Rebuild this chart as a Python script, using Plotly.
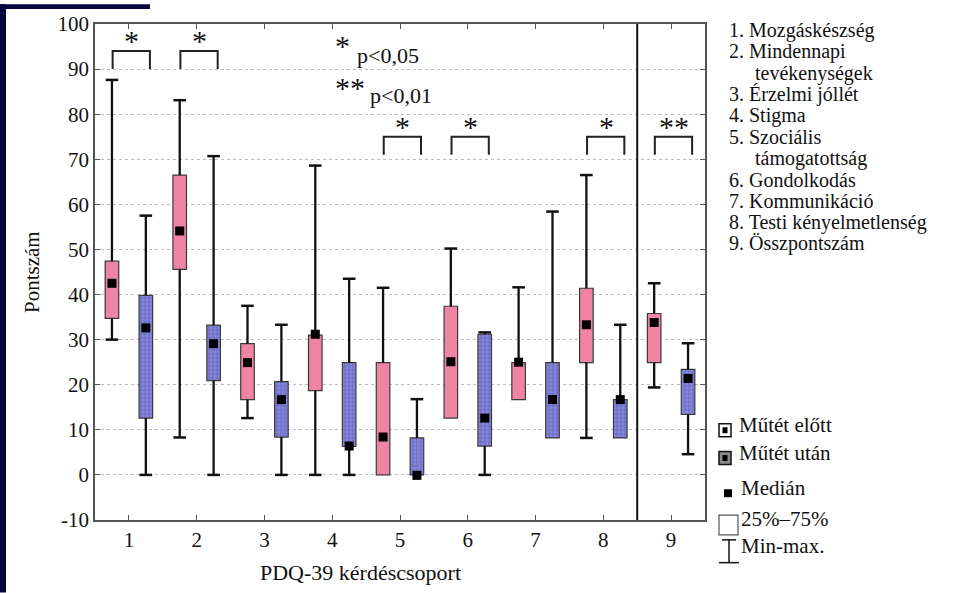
import plotly.graph_objects as go

# ---------------- data ----------------
CATEGORIES = [1, 2, 3, 4, 5, 6, 7, 8, 9]
Y_TICKS = [-10, 0, 10, 20, 30, 40, 50, 60, 70, 80, 90, 100]
Y_TICK_TEXT = ["-10", "0", "10", "20", "30", "40", "50", "60", "70", "80", "90", "100"]

BEFORE_MIN = [30.0, 8.3, 12.6, 0.0, 0.0, 12.6, 16.7, 8.2, 19.4]
BEFORE_Q1 = [34.7, 45.6, 16.7, 18.7, 0.0, 12.6, 16.7, 24.9, 24.9]
BEFORE_MED = [42.5, 54.1, 24.9, 31.2, 8.4, 25.1, 25.0, 33.3, 33.8]
BEFORE_Q3 = [47.4, 66.5, 29.1, 31.0, 24.9, 37.4, 24.9, 41.4, 35.8]
BEFORE_MAX = [87.6, 83.1, 37.5, 68.6, 41.5, 50.2, 41.6, 66.5, 42.5]

AFTER_MIN = [0.0, 0.0, 0.0, 0.0, 0.0, 0.0, 8.2, 8.2, 4.6]
AFTER_Q1 = [12.6, 20.9, 8.4, 6.3, 0.0, 6.4, 8.2, 8.2, 13.4]
AFTER_MED = [32.6, 29.1, 16.7, 6.4, -0.1, 12.6, 16.7, 16.7, 21.4]
AFTER_Q3 = [39.8, 33.2, 20.7, 24.9, 8.2, 31.2, 24.9, 16.7, 23.4]
AFTER_MAX = [57.5, 70.7, 33.3, 43.5, 16.8, 31.6, 58.4, 33.3, 29.2]

SIG_CATS = [1, 2, 5, 6, 8, 9]
SIG_LABELS = ["*", "*", "*", "*", "*", "**"]
SIG_TOP = [94.0, 94.0, 75.0, 75.0, 75.0, 75.0]

GROUP_NAMES = ["1. Mozgáskészség", "2. Mindennapi", "tevékenységek",
               "3. Érzelmi jóllét", "4. Stigma", "5. Szociális",
               "támogatottság", "6. Gondolkodás", "7. Kommunikáció",
               "8. Testi kényelmetlenség", "9. Összpontszám"]
GROUP_INDENT = [False, False, True, False, False, False, True, False, False, False, False]

X_TITLE = "PDQ-39 kérdéscsoport"
Y_TITLE = "Pontszám"

# ---------------- style ----------------
W, H = 957, 593
ML, MR, MT, MB = 95, 252, 20, 73
PW, PH = W - ML - MR, H - MT - MB
FONT = "Liberation Serif, Times New Roman, serif"
TXT = "#111"
PINK = "#f084a4"
BLUE = "#8486ee"
NAVY = "#07063a"
OFFSET = 0.25
BOX_W = 0.2


def px(x):
    return (x - ML) / PW


def py(y):
    return (MT + PH - y) / PH


fig = go.Figure()


def add_group(xs, q1, med, q3, vmin, vmax, color, pattern):
    fig.add_trace(go.Bar(
        x=xs, y=[b - a for a, b in zip(q1, q3)], base=q1, width=BOX_W,
        marker=dict(color=color, line=dict(color="#3a3a3a", width=1.2),
                    pattern=pattern),
        showlegend=False, hoverinfo="skip"))
    wx, wy = [], []
    for x, a, b, lo, hi in zip(xs, q1, q3, vmin, vmax):
        wx += [x, x, None, x, x, None]
        wy += [b, hi, None, lo, a, None]
    fig.add_trace(go.Scatter(x=wx, y=wy, mode="lines",
                             line=dict(color="#111", width=2.3),
                             showlegend=False, hoverinfo="skip"))
    cx, cy = [], []
    for x, a, b, lo, hi in zip(xs, q1, q3, vmin, vmax):
        if hi - b > 0.05:
            cx.append(x); cy.append(hi)
        if a - lo > 0.05:
            cx.append(x); cy.append(lo)
    fig.add_trace(go.Scatter(x=cx, y=cy, mode="markers",
                             marker=dict(symbol="line-ew", size=9,
                                         line=dict(color="#111", width=2.5)),
                             showlegend=False, hoverinfo="skip"))
    fig.add_trace(go.Scatter(x=xs, y=med, mode="markers",
                             marker=dict(symbol="square", size=9, color="#000"),
                             showlegend=False, hoverinfo="skip"))


xb = [c - OFFSET for c in CATEGORIES]
xa = [c + OFFSET for c in CATEGORIES]
add_group(xb, BEFORE_Q1, BEFORE_MED, BEFORE_Q3, BEFORE_MIN, BEFORE_MAX, PINK, None)
add_group(xa, AFTER_Q1, AFTER_MED, AFTER_Q3, AFTER_MIN, AFTER_MAX, BLUE,
          dict(shape="+", fgcolor="#5a5a6e", size=4, solidity=0.5))

# significance brackets
bx, by = [], []
for c, top in zip(SIG_CATS, SIG_TOP):
    l, r = c - 0.24, c + 0.31
    bx += [l, l, r, r, None]
    by += [top - 4, top, top, top - 4, None]
fig.add_trace(go.Scatter(x=bx, y=by, mode="lines",
                         line=dict(color="#222", width=2),
                         showlegend=False, hoverinfo="skip"))

annotations = []
for c, top, lab in zip(SIG_CATS, SIG_TOP, SIG_LABELS):
    annotations.append(dict(x=c + 0.04, y=top, xref="x", yref="y", text=lab,
                            showarrow=False, yanchor="bottom", yshift=-8,
                            font=dict(family=FONT, size=30, color=TXT)))


def ptext(x, y, text, size=20, xanchor="left", yshift=5, **kw):
    d = dict(x=px(x), y=py(y), xref="paper", yref="paper", text=text,
             showarrow=False, xanchor=xanchor, yanchor="middle", yshift=yshift,
             font=dict(family=FONT, size=size, color=TXT))
    d.update(kw)
    annotations.append(d)


# p legend
ptext(342, 47, "*", size=30, xanchor="center")
ptext(355, 57, "p<0,05", size=22)
ptext(350, 89, "**", size=30, xanchor="center")
ptext(368, 97, "p<0,01", size=22)

# group names list
for i, (name, ind) in enumerate(zip(GROUP_NAMES, GROUP_INDENT)):
    ptext(753 if ind else 727, 31.5 + 21.5 * i, name)

# lower legend
LEG_TEXT = [("Műtét előtt", 737, 429), ("Műtét után", 737, 458),
            ("Medián", 739, 493), ("25%–75%", 739, 524), ("Min-max.", 739, 551)]
for t, x, y in LEG_TEXT:
    ptext(x, y, t, size=21)

# axis titles
ptext(360, 578, X_TITLE, size=22, xanchor="center")
ptext(28, 270, Y_TITLE, size=21, xanchor="center", yshift=0, xshift=4, textangle=-90)

shapes = []


def rect(x0, y0, x1, y1, fill, line_color=None, lw=0):
    shapes.append(dict(type="rect", xref="paper", yref="paper",
                       x0=px(x0), x1=px(x1), y0=py(y1), y1=py(y0),
                       fillcolor=fill, line=dict(color=line_color or fill, width=lw),
                       layer="above"))


def seg(x0, y0, x1, y1, color="#111", lw=1.5):
    shapes.append(dict(type="line", xref="paper", yref="paper",
                       x0=px(x0), x1=px(x1), y0=py(y0), y1=py(y1),
                       line=dict(color=color, width=lw), layer="above"))


# navy frame pieces
rect(0, 0, 6, H, NAVY)
rect(0, 0, 150, 5, NAVY)

# divider between groups
shapes.append(dict(type="line", xref="x", yref="paper", x0=8.5, x1=8.5, y0=0, y1=1,
                   line=dict(color="#111", width=2), layer="above"))

# legend icons
rect(719, 423, 731, 436, "#ffffff", "#111", 1.5)
rect(722.5, 426.5, 727.5, 432.5, "#000")
rect(719, 451, 731, 464, "#8a8a8a", "#111", 1.5)
rect(722.5, 454.5, 727.5, 460.5, "#000")
rect(724, 489, 732, 497, "#000")
rect(719, 515, 738, 535, "#ffffff", "#555", 1.2)
seg(722, 540, 736, 540)
seg(729, 540, 729, 563)
seg(719, 563, 739, 563)

fig.update_layout(
    width=W, height=H, margin=dict(l=ML, r=MR, t=MT, b=MB),
    paper_bgcolor="white", plot_bgcolor="white",
    barmode="overlay", showlegend=False,
    annotations=annotations, shapes=shapes,
    font=dict(family=FONT, size=20, color=TXT),
)
fig.update_xaxes(range=[0.5, 9.5], tickvals=CATEGORIES, ticktext=[str(c) for c in CATEGORIES],
                 showgrid=False, zeroline=False, showline=True, linecolor="#555",
                 linewidth=1.5, mirror="ticks", ticks="inside", ticklen=5,
                 tickcolor="#555", tickfont=dict(family=FONT, size=21, color=TXT))
fig.update_yaxes(range=[-10, 100], tickvals=Y_TICKS, ticktext=Y_TICK_TEXT,
                 showgrid=True, gridcolor="#bdbdbd",
                 griddash="dot", gridwidth=1, zeroline=False, showline=True,
                 linecolor="#555", linewidth=1.5, mirror="ticks", ticks="inside",
                 ticklen=5, tickcolor="#555",
                 tickfont=dict(family=FONT, size=21, color=TXT))

fig.write_html("out.html")
